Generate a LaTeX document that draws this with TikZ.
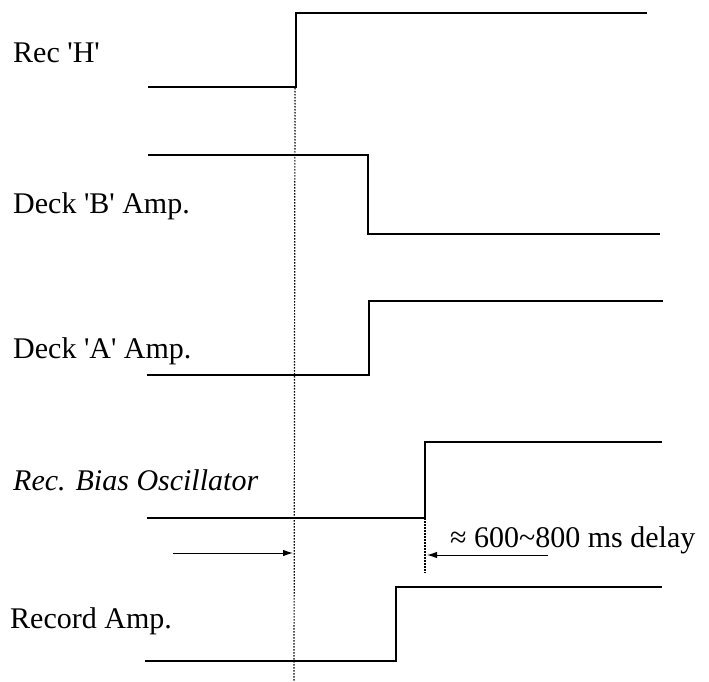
\documentclass[tikz,border=0pt]{standalone}
\usepackage{fontspec}
\setmainfont{Liberation Serif}
\usetikzlibrary{arrows.meta}
\begin{document}
\begin{tikzpicture}[x=1pt,y=-1pt,
  wave/.style={line width=1.4pt, line join=miter},
  guide/.style={line width=1.2pt, dash pattern=on 1.5pt off 1.5pt},
  lbl/.style={anchor=base west, inner sep=0pt, font=\fontsize{30}{35}\selectfont},
  marker/.style={line width=1pt, -{Latex[length=10pt,width=6.5pt]}}]
\useasboundingbox (0,0) rectangle (709,682);

% labels
\node[lbl] (lrec) at (13,63) {Rec \textquotesingle H\textquotesingle};
\node[lbl] (ldeckb) at (13,213) {Deck \textquotesingle B\textquotesingle\ Amp.};
\node[lbl] (ldecka) at (13,358) {Deck \textquotesingle A\textquotesingle\ Amp.};
\node[lbl] (lbias) at (13,490) {\itshape Rec. Bias Oscillator};
\node[lbl] (lramp) at (10,628) {Record Amp.};
\node[lbl] (ldelay) at (450,547) {≈ 600\textasciitilde800 ms delay};

% Rec 'H'
\coordinate (h0) at (148,87); \coordinate (h1) at (296,87);
\coordinate (h2) at (296,13); \coordinate (h3) at (647,13);
\draw[wave] (h0) -- (h1) -- (h2) -- (h3);

% Deck 'B'
\coordinate (b0) at (148,155); \coordinate (b1) at (368,155);
\coordinate (b2) at (368,234); \coordinate (b3) at (660,234);
\draw[wave] (b0) -- (b1) -- (b2) -- (b3);

% Deck 'A'
\coordinate (a0) at (147,375); \coordinate (a1) at (369,375);
\coordinate (a2) at (369,301); \coordinate (a3) at (663,301);
\draw[wave] (a0) -- (a1) -- (a2) -- (a3);

% Rec. Bias Oscillator
\coordinate (o0) at (147,518); \coordinate (o1) at (425,518);
\coordinate (o2) at (425,442); \coordinate (o3) at (662,442);
\draw[wave] (o0) -- (o1) -- (o2) -- (o3);

% Record Amp.
\coordinate (r0) at (145,661); \coordinate (r1) at (396,661);
\coordinate (r2) at (396,587); \coordinate (r3) at (662,587);
\draw[wave] (r0) -- (r1) -- (r2) -- (r3);

% guides
\coordinate (gtop) at (295,88);
\coordinate (gbot) at (294,682);
\draw[guide] (gtop) -- (gbot);
\coordinate (dbot) at (425,573);
\draw[guide] (o1) -- (dbot);

% arrows
\coordinate (m1s) at (173,553); \coordinate (m1e) at (293,553);
\draw[marker] (m1s) -- (m1e);
\coordinate (m2s) at (548,555); \coordinate (m2e) at (427,555);
\draw[marker] (m2s) -- (m2e);
\end{tikzpicture}
\end{document}
